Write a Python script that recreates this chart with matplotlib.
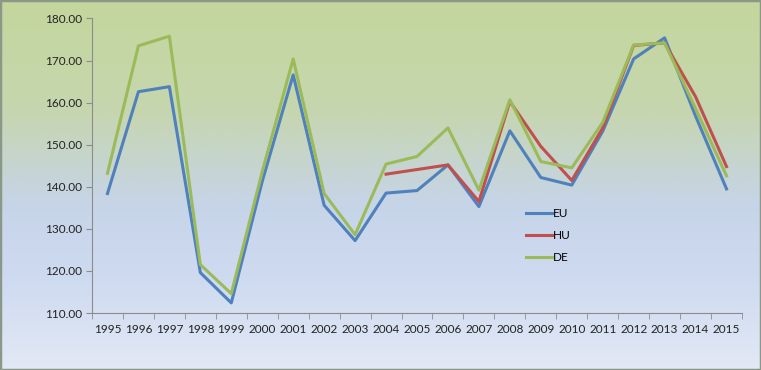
import numpy as np
import matplotlib.pyplot as plt
from matplotlib.colors import LinearSegmentedColormap
from matplotlib.patches import Rectangle

years = [str(y) for y in range(1995, 2016)]
eu = [138.4, 162.6, 163.8, 119.6, 112.4, 141.3, 166.6, 135.6, 127.2, 138.5,
      139.1, 145.2, 135.3, 153.3, 142.2, 140.4, 153.2, 170.4, 175.4, 156.8, 139.5]
hu = [None]*9 + [143.0, 144.1, 145.2, 136.5, 160.3, 149.6, 141.5, 154.0, 173.6, 174.2, 161.4, 144.8]
de = [143.2, 173.5, 175.8, 121.5, 114.6, 143.6, 170.4, 138.4, 128.6, 145.4,
      147.2, 154.0, 139.2, 160.7, 146.0, 144.5, 155.3, 173.7, 174.2, 158.6, 142.6]

colors = {'EU': '#4f81bd', 'HU': '#c0504d', 'DE': '#9bbb59'}

plt.rcParams['font.family'] = ['Lato', 'DejaVu Sans']

fig = plt.figure(figsize=(7.61, 3.70), dpi=100)

# background gradient
bg = fig.add_axes([0, 0, 1, 1], zorder=0)
grad = LinearSegmentedColormap.from_list('bg', [
    (0.0, (196/255, 215/255, 156/255)),
    (0.3, (198/255, 214/255, 175/255)),
    (0.55, (198/255, 212/255, 232/255)),
    (0.75, (206/255, 218/255, 240/255)),
    (1.0, (226/255, 233/255, 245/255))])
bg.imshow(np.linspace(0, 1, 256).reshape(-1, 1), aspect='auto', cmap=grad,
          extent=[0, 1, 0, 1])
bg.set_axis_off()
fig.patches.append(Rectangle((0, 0), 1, 1, transform=fig.transFigure, fill=False,
                             edgecolor='#8a9888', linewidth=2.5, zorder=10))

ax = fig.add_axes([92/761, 1-313/370, 650/761, 294.5/370], zorder=1)
ax.patch.set_alpha(0)

x = np.arange(len(years))
ax.plot(x, eu, color=colors['EU'], lw=2.2, label='EU')
hu_arr = np.array([np.nan if v is None else v for v in hu], dtype=float)
ax.plot(x, hu_arr, color=colors['HU'], lw=2.2, label='HU')
ax.plot(x, de, color=colors['DE'], lw=2.2, label='DE')

ax.set_xlim(-0.5, len(years) - 0.5)
ax.set_ylim(110, 180)
ax.set_yticks(np.arange(110, 181, 10))
ax.set_yticklabels(['%.2f' % v for v in np.arange(110, 181, 10)])
ax.set_xticks(x)
ax.set_xticklabels(years)
ax.set_xticks(np.arange(-0.5, len(years)), minor=True)
ax.tick_params(axis='x', which='major', length=0, pad=8, labelsize=8.5, colors='#222222')
ax.tick_params(axis='x', which='minor', length=4, color='#8c8c8c')
ax.tick_params(axis='y', length=4, color='#8c8c8c', labelsize=8.5, labelcolor='#222222', pad=3)

for s in ['top', 'right']:
    ax.spines[s].set_visible(False)
for s in ['left', 'bottom']:
    ax.spines[s].set_color('#8c8c8c')
    ax.spines[s].set_linewidth(0.8)

leg = ax.legend(loc='upper left', bbox_to_anchor=(0.655, 0.385), frameon=False,
                fontsize=8.5, handlelength=2.2, handletextpad=0.1, labelspacing=0.95,
                borderpad=0.2)

fig.savefig('out.png', dpi=100)
